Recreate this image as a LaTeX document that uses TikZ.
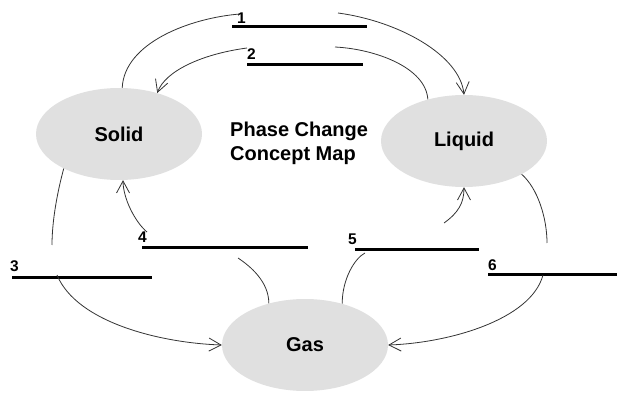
\documentclass[tikz,border=0pt]{standalone}
\usepackage{fontspec}
\setmainfont{Liberation Sans}
\usetikzlibrary{shapes.geometric,arrows.meta}
\definecolor{bubble}{HTML}{E0E0E0}
\definecolor{wire}{HTML}{333333}
\tikzset{
  state/.style={ellipse, fill=bubble, draw=none, inner sep=0pt,
    minimum width=166pt, minimum height=92pt,
    font=\fontsize{20}{24}\selectfont\bfseries},
  title/.style={align=left, inner sep=0pt, font=\fontsize{20}{24}\selectfont\bfseries},
  num/.style={inner sep=0pt, font=\fontsize{15.5}{18}\selectfont\bfseries},
  blank/.style={line width=3pt, black},
  link/.style={draw=wire, line width=0.8pt},
  arr/.style={link, -{Straight Barb[length=12pt,width=13pt,line width=0.8pt]}}
}
\begin{document}
\begin{tikzpicture}[x=1pt,y=-1pt]
\useasboundingbox (0,0) rectangle (640,414);
% states
\node[state] (solid) at (119,134) {Solid};
\node[state] (liquid) at (464,141) {Liquid};
\node[state] (gas) at (305,345) {Gas};
\node[title, anchor=west] (ttl) at (230,143) {Phase Change\\Concept Map};
% blanks
\coordinate (b1s) at (232,27);  \coordinate (b1e) at (367,27);
\coordinate (b2s) at (247,65);  \coordinate (b2e) at (363,65);
\coordinate (b3s) at (12,277);  \coordinate (b3e) at (152,277);
\coordinate (b4s) at (142,248); \coordinate (b4e) at (308,248);
\coordinate (b5s) at (355,250); \coordinate (b5e) at (479,250);
\coordinate (b6s) at (488,274); \coordinate (b6e) at (617,274);
\draw[blank] (b1s) -- (b1e);
\draw[blank] (b2s) -- (b2e);
\draw[blank] (b3s) -- (b3e);
\draw[blank] (b4s) -- (b4e);
\draw[blank] (b5s) -- (b5e);
\draw[blank] (b6s) -- (b6e);
\node[num, anchor=base west] (n1) at (237,24) {1};
\node[num, anchor=base west] (n2) at (247,60) {2};
\node[num, anchor=base west] (n3) at (10,271) {3};
\node[num, anchor=base west] (n4) at (138,243) {4};
\node[num, anchor=base west] (n5) at (348,244) {5};
\node[num, anchor=base west] (n6) at (488,270) {6};
% connector free ends
\coordinate (c1a) at (240,14);  \coordinate (c1b) at (338,13);
\coordinate (c2a) at (335,47);  \coordinate (c2b) at (247,48);
\coordinate (c3a) at (52,245);  \coordinate (c3b) at (57,275);
\coordinate (c4a) at (238,258); \coordinate (c4b) at (147,232);
\coordinate (c5a) at (365,253); \coordinate (c5b) at (444,223);
\coordinate (c6a) at (547,243); \coordinate (c6b) at (543,275);
% 1: solid -> liquid
\draw[link] (solid.86) .. controls +(2,-45) and +(-50,4) .. (c1a);
\draw[arr] (c1b) .. controls +(60,8) and +(-4,-40) .. (liquid.90);
% 2: liquid -> solid
\draw[link] (liquid.131) .. controls +(-2,-32) and +(40,2) .. (c2a);
\draw[arr] (c2b) .. controls +(-45,6) and +(8,-22) .. (solid.47);
% 3: solid -> gas
\draw[link] (solid.212) .. controls +(-6,22) and +(0,-25) .. (c3a);
\draw[arr] (c3b) .. controls +(20,48) and +(-60,-2) .. (gas.180);
% 4: gas -> solid
\draw[link] (gas.131) .. controls +(0,-22) and +(12,8) .. (c4a);
\draw[arr] (c4b) .. controls +(-12,-10) and +(0,18) .. (solid.275);
% 5: gas -> liquid
\draw[link] (gas.48) .. controls +(0,-25) and +(-10,5) .. (c5a);
\draw[arr] (c5b) .. controls +(14,-10) and +(0,16) .. (liquid.270);
% 6: liquid -> gas
\draw[link] (liquid.330) .. controls +(16,14) and +(0,-25) .. (c6a);
\draw[arr] (c6b) .. controls +(-12,45) and +(60,-2) .. (gas.0);
\end{tikzpicture}
\end{document}
